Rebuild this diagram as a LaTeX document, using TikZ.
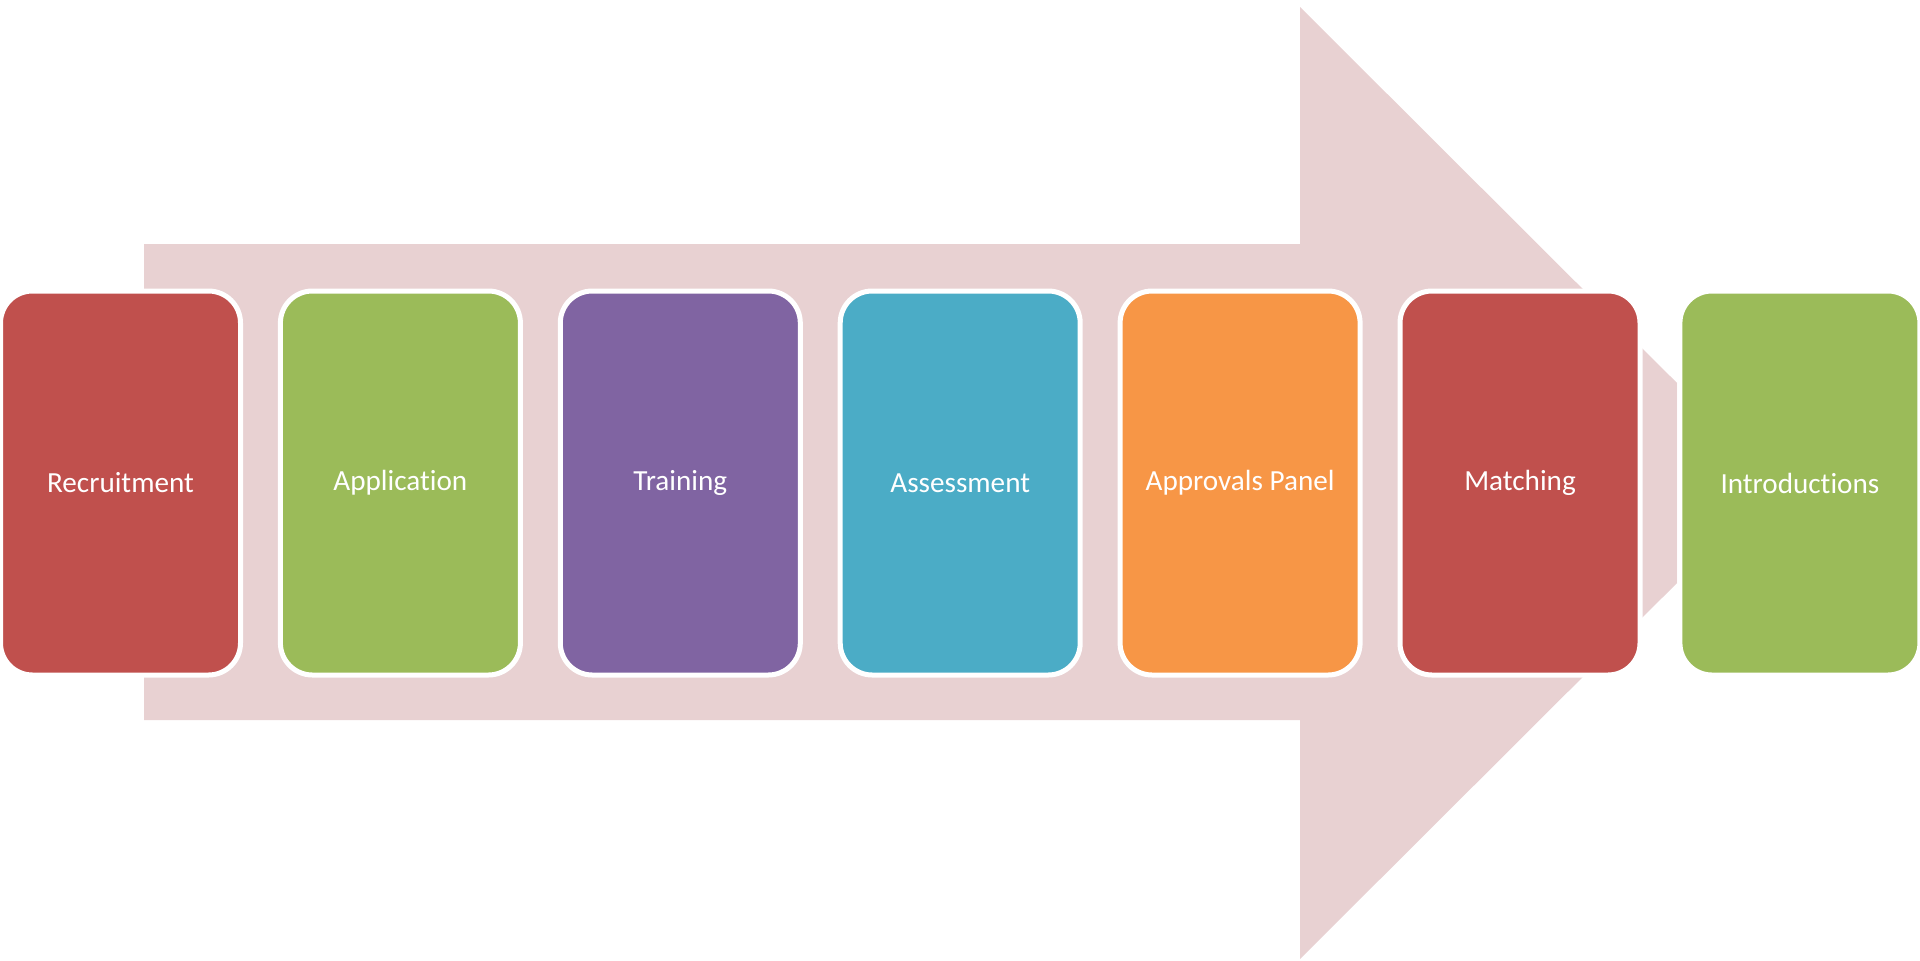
\documentclass[tikz,border=0pt]{standalone}
\usepackage{fontspec}
\newfontfamily\stagefont[Ligatures=NoCommon]{Carlito}
\usetikzlibrary{
    positioning,
    backgrounds
}
\definecolor{arrowcol}{HTML}{E8D1D2}
\definecolor{redcol}{HTML}{C0504D}
\definecolor{greencol}{HTML}{9BBB59}
\definecolor{purplecol}{HTML}{8064A2}
\definecolor{tealcol}{HTML}{4BACC6}
\definecolor{orangecol}{HTML}{F79646}

\begin{document}
\begin{tikzpicture}[
    font=\stagefont\fontsize{8.3}{10}\selectfont,
    % ── Node Styles ──
    stage/.style={
        draw=white, line width=0.05cm, rounded corners=0.32cm,
        minimum width=2.40cm, minimum height=3.84cm,
        inner sep=0pt, outer sep=0pt,
        text=white, align=center
    },
    % ── Arrow Styles ──
    bigarrow/.style={fill=arrowcol, draw=none},
]

% Page frame
\useasboundingbox (0, 0) rectangle (19.2, 9.6);

% ────────────────────────────────
%  BACKGROUND ARROW
% ────────────────────────────────
\begin{scope}[on background layer]
    \fill[bigarrow]
        (1.44, 7.16) -- (13.00, 7.16) -- (13.00, 9.53)
        -- (16.77, 5.77) -- (16.77, 3.77)
        -- (13.00, 0.01) -- (13.00, 2.40) -- (1.44, 2.40) -- cycle;
\end{scope}

% ────────────────────────────────
%  STAGES (y = 4.77)
% ────────────────────────────────
\node[stage, fill=redcol] (recruit) at (1.205, 4.77) {Recruitment};
\node[stage, fill=greencol, right=0.399cm of recruit] (applic) {Application};
\node[stage, fill=purplecol, right=0.399cm of applic] (train) {Training};
\node[stage, fill=tealcol, right=0.399cm of train] (assess) {Assessment};
\node[stage, fill=orangecol, right=0.399cm of assess] (panel) {Approvals Panel};
\node[stage, fill=redcol, right=0.399cm of panel] (match) {Matching};
\node[stage, fill=greencol, right=0.399cm of match] (intro) {Introductions};

\end{tikzpicture}
\end{document}
